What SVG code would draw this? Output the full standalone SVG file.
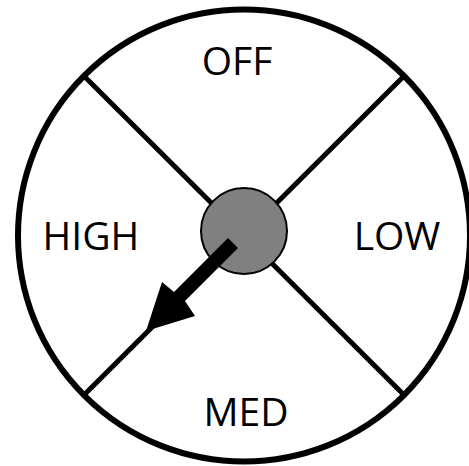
<svg xmlns="http://www.w3.org/2000/svg" width="469" height="466" viewBox="0 0 469 466">
<style>
.lbl{font-family:"Open Sans","Noto Sans","Liberation Sans",sans-serif;font-size:39px;fill:#000;text-anchor:middle}
.ln{stroke:#000;stroke-width:5;fill:none}
</style>
<rect width="469" height="466" fill="#fff"/>
<g id="dial">
<circle cx="244" cy="235.5" r="226" fill="#fff" stroke="#000" stroke-width="6"/>
</g>
<g id="connectors">
<line class="ln" x1="85" y1="77" x2="403" y2="394"/>
<line class="ln" x1="403" y1="77" x2="85" y2="394"/>
</g>
<g id="knob">
<circle cx="244" cy="231" r="43" fill="#808080" stroke="#000" stroke-width="2"/>
</g>
<g id="pointer">
<polygon points="228,238 238,248 185,301 195,316 146,331 162,282 174,292" fill="#000"/>
</g>
<g id="off"><text class="lbl" x="237" y="75">OFF</text></g>
<g id="low"><text class="lbl" x="397" y="250">LOW</text></g>
<g id="med"><text class="lbl" x="246" y="426">MED</text></g>
<g id="high"><text class="lbl" x="91" y="250">HIGH</text></g>
</svg>
